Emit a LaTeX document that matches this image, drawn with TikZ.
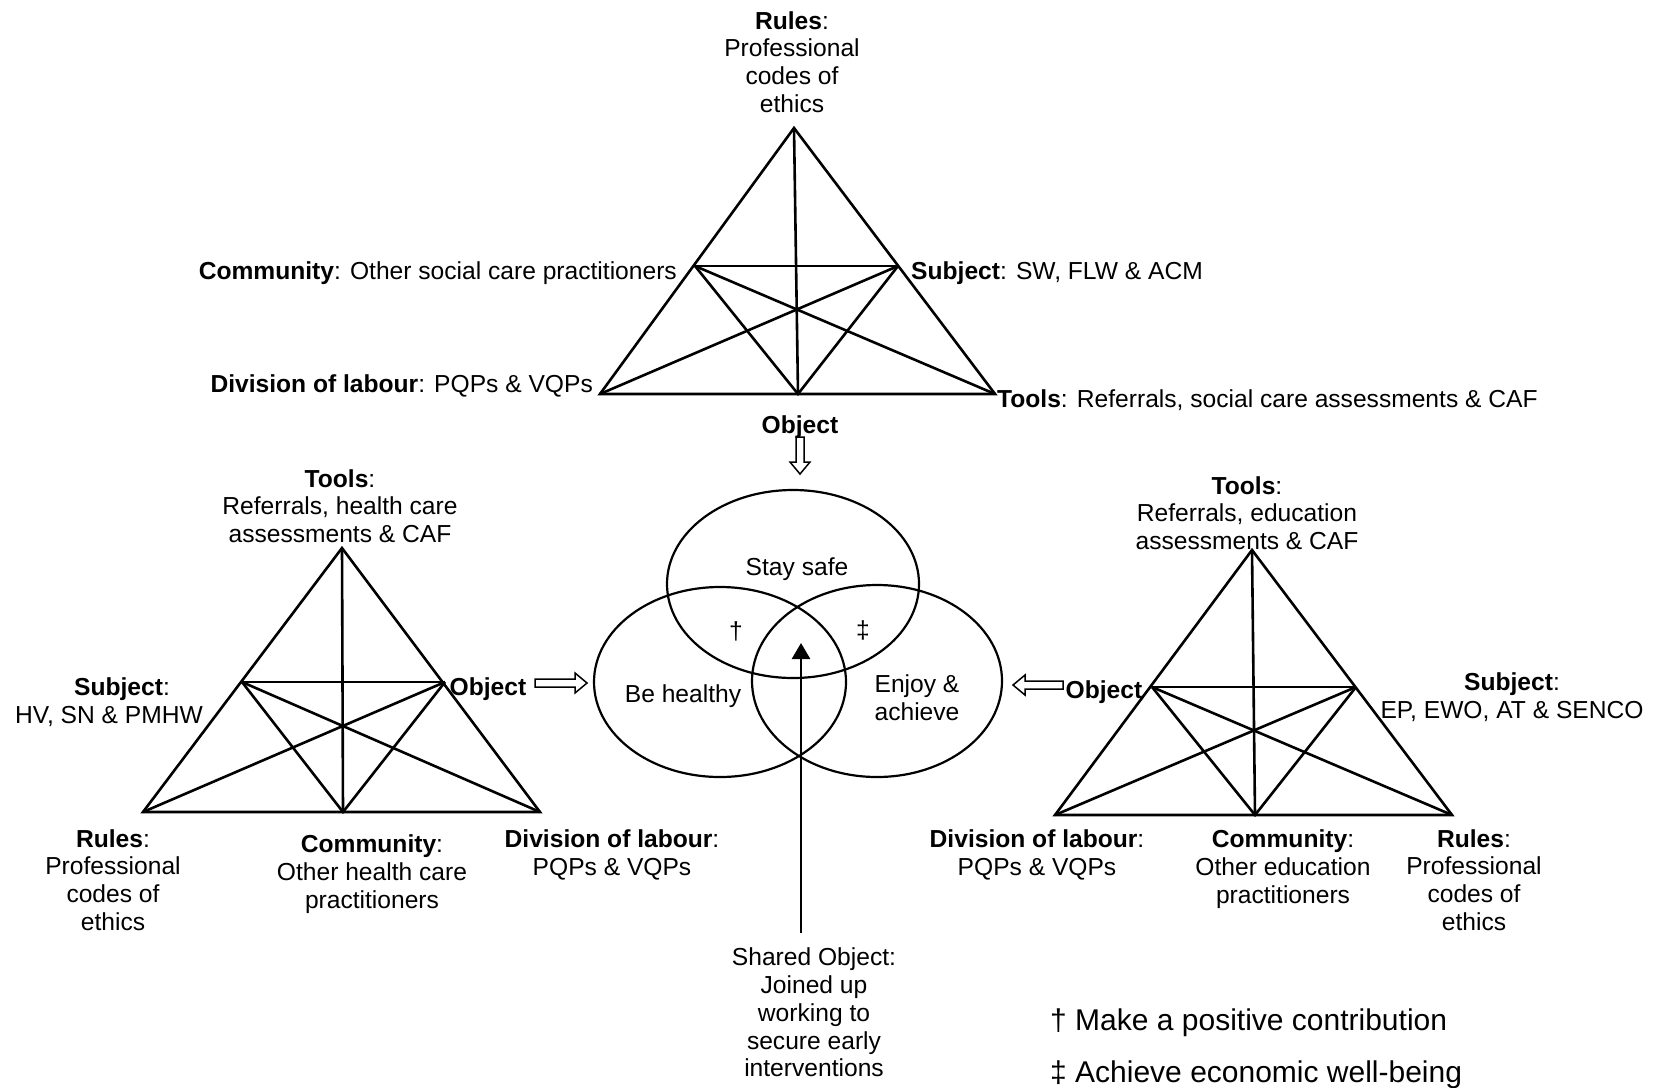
\documentclass[tikz,border=0pt]{standalone}
\usepackage{fontspec}
\setmainfont{Liberation Sans}
\usetikzlibrary{arrows.meta,calc}
\newcommand{\drawtri}[1]{%
  \draw[tri] (#1A) -- (#1B) -- (#1C) -- cycle;
  \draw[tri] (#1L) -- (#1R);
  \draw[tri] (#1A) -- (#1M);
  \draw[tri] (#1L) -- (#1M) -- (#1R);
  \draw[tri] (#1L) -- (#1C);
  \draw[tri] (#1R) -- (#1B);
}
\newcommand{\hollowarrow}[3]{%
  \begin{scope}[shift={(#1)}, rotate=#2]
    \draw[hollow] (0,-4) -- (#3-12,-4) -- (#3-12,-10) -- (#3,0) -- (#3-12,10) -- (#3-12,4) -- (0,4) -- cycle;
  \end{scope}}
\begin{document}
\begin{tikzpicture}[x=1pt,y=-1pt,
  tri/.style={line width=2.6pt, line join=miter},
  venn/.style={line width=2.2pt},
  lbl/.style={inner sep=0pt, align=center, font=\fontsize{24.6}{27.8}\selectfont},
  leg/.style={inner sep=0pt, anchor=base west, font=\fontsize{30}{36}\selectfont},
  hollow/.style={line width=1.5pt, line join=miter},
  sharedarrow/.style={line width=2.8pt, -{Triangle[length=16pt,width=18pt]}}
]
\useasboundingbox[fill=white] (0,0) rectangle (1653,1087);

% ---------- top triangle (social care) ----------
\coordinate (tA) at (794,128);
\coordinate (tB) at (600,394);
\coordinate (tC) at (995,394);
\coordinate (tL) at (695,266);
\coordinate (tR) at (898,266);
\coordinate (tM) at (798,394);
\drawtri{t}

\node[lbl] (tRules) at (792,62) {\textbf{Rules}:\\Professional\\codes of\\ethics};
\node[lbl, anchor=base east] (tComm) at (677,279.5) {\textbf{Community}: Other social care practitioners};
\node[lbl, anchor=base west] (tSubj) at (911,279.5) {\textbf{Subject}: SW, FLW \& ACM};
\node[lbl, anchor=base east] (tDiv) at (593,392.5) {\textbf{Division of labour}: PQPs \& VQPs};
\node[lbl, anchor=base west] (tTools) at (997,407.5) {\textbf{Tools}: Referrals, social care assessments \& CAF};
\node[lbl, anchor=base] (tObj) at (800,433) {\textbf{Object}};

% ---------- left triangle (health) ----------
\coordinate (lA) at (342,548);
\coordinate (lB) at (143,812);
\coordinate (lC) at (540,812);
\coordinate (lL) at (242,682);
\coordinate (lR) at (445,682);
\coordinate (lM) at (343,812);
\drawtri{l}

\node[lbl] (lTools) at (340,506) {\textbf{Tools}:\\Referrals, health care\\assessments \& CAF};
\node[lbl, anchor=base] (lSubjA) at (122,695.5) {\textbf{Subject}:};
\node[lbl, anchor=base] (lSubjB) at (109,723.5) {HV, SN \& PMHW};
\node[lbl, anchor=base] (lObj) at (488,695.5) {\textbf{Object}};
\node[lbl] (lRules) at (113,880) {\textbf{Rules}:\\Professional\\codes of\\ethics};
\node[lbl] (lComm) at (372,874) {\textbf{Community}:\\Other health care\\practitioners};
\node[lbl] (lDiv) at (612,855) {\textbf{Division of labour}:\\PQPs \& VQPs};

% ---------- right triangle (education) ----------
\coordinate (rA) at (1252,550);
\coordinate (rB) at (1055,815);
\coordinate (rC) at (1452,815);
\coordinate (rL) at (1152,687);
\coordinate (rR) at (1356,687);
\coordinate (rM) at (1255,815);
\drawtri{r}

\node[lbl] (rTools) at (1247,513) {\textbf{Tools}:\\Referrals, education\\assessments \& CAF};
\node[lbl, anchor=base] (rObj) at (1104,698.5) {\textbf{Object}};
\node[lbl] (rSubj) at (1512,697) {\textbf{Subject}:\\EP, EWO, AT \& SENCO};
\node[lbl] (rDiv) at (1037,855) {\textbf{Division of labour}:\\PQPs \& VQPs};
\node[lbl] (rComm) at (1283,869) {\textbf{Community}:\\Other education\\practitioners};
\node[lbl] (rRules) at (1474,880) {\textbf{Rules}:\\Professional\\codes of\\ethics};

% ---------- hollow arrows ----------
\coordinate (tArrTail) at (800,437);
\coordinate (lArrTail) at (535,683);
\coordinate (rArrTail) at (1063,685);
\hollowarrow{tArrTail}{-90}{37}
\hollowarrow{lArrTail}{0}{52}
\hollowarrow{rArrTail}{180}{50}

% ---------- Venn ----------
\draw[venn] (793,584) ellipse [x radius=126, y radius=94];
\draw[venn] (720,682) ellipse [x radius=126, y radius=95];
\draw[venn] (877,681) ellipse [x radius=125, y radius=96];

\node[lbl, anchor=base] (safe) at (797,575.5) {Stay safe};
\node[lbl] (dag) at (736,631) {†};
\node[lbl] (ddag) at (863,630) {‡};
\node[lbl, anchor=base] (healthy) at (683,702.5) {Be healthy};
\node[lbl] (enjoy) at (917,698) {Enjoy \&\\achieve};

% ---------- shared object ----------
\node[lbl] (shared) at (814,1012.5) {Shared Object:\\Joined up\\working to\\secure early\\interventions};
\coordinate (arrStart) at (801,933);
\coordinate (arrTip) at (801,643);
\draw[sharedarrow] (arrStart) -- (arrTip);

% ---------- legend ----------
\node[leg] (leg1) at (1050,1030) {† Make a positive contribution};
\node[leg] (leg2) at (1050,1082) {‡ Achieve economic well-being};
\end{tikzpicture}
\end{document}
